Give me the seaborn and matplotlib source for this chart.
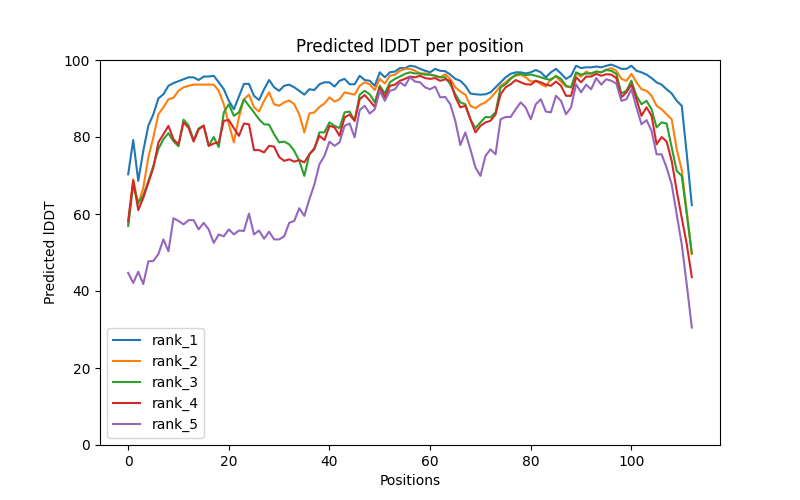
import numpy as np
import pandas as pd
import matplotlib
matplotlib.use('Agg')
import matplotlib.pyplot as plt
import seaborn as sns

# pLDDT values per rank, positions 0..112
rank_1 = [70.3, 79.2, 68.6, 76.4, 82.9, 85.9, 90.0, 91.1, 93.3, 94.0,
          94.5, 95.0, 95.5, 95.5, 94.8, 95.7, 95.7, 95.9, 94.2, 92.4,
          89.4, 87.2, 90.5, 93.8, 93.8, 90.7, 89.6, 92.4, 94.8, 92.9,
          92.0, 93.3, 93.6, 92.9, 92.0, 91.0, 92.4, 92.2, 93.7, 94.2,
          94.2, 93.1, 94.6, 95.1, 93.7, 93.7, 95.9, 94.8, 94.6, 93.3,
          96.8, 95.5, 96.8, 97.0, 97.9, 97.9, 98.5, 98.3, 97.7, 97.2,
          96.8, 97.7, 97.2, 97.1, 96.2, 95.1, 94.6, 93.3, 91.3, 91.1,
          91.0, 91.1, 91.6, 92.9, 94.2, 95.5, 96.4, 96.8, 96.8, 96.5,
          96.8, 97.4, 96.8, 95.5, 96.8, 97.7, 96.5, 95.1, 95.9, 98.5,
          97.9, 98.1, 98.1, 98.3, 98.1, 98.5, 98.8, 98.3, 97.7, 97.7,
          98.5, 97.2, 96.8, 96.2, 95.3, 94.2, 93.6, 92.4, 91.3, 89.4,
          88.1, 75.5, 62.3]
rank_2 = [57.5, 69.0, 62.5, 66.8, 74.7, 79.9, 85.9, 87.7, 89.8, 90.2,
          92.0, 92.9, 93.3, 93.6, 93.6, 93.6, 93.6, 93.6, 92.0, 88.5,
          83.3, 78.6, 85.1, 89.8, 91.0, 87.7, 86.6, 89.4, 91.6, 88.5,
          88.1, 89.0, 89.5, 88.5, 85.9, 81.2, 86.1, 86.4, 87.8, 88.7,
          90.3, 89.2, 89.8, 91.6, 91.3, 91.0, 93.3, 94.2, 93.7, 92.2,
          95.1, 93.9, 95.9, 96.2, 97.2, 97.7, 97.7, 97.2, 96.5, 96.5,
          96.2, 95.9, 95.5, 96.3, 95.1, 92.9, 91.8, 91.0, 88.1, 87.5,
          88.4, 89.0, 90.1, 91.6, 93.3, 94.2, 95.3, 95.9, 96.2, 95.5,
          94.4, 94.6, 93.7, 93.1, 95.1, 95.7, 94.4, 93.1, 92.9, 96.5,
          95.7, 97.0, 96.4, 97.0, 96.8, 97.5, 97.9, 97.2, 95.1, 94.6,
          96.4, 94.2, 92.4, 92.0, 90.7, 88.1, 87.2, 85.9, 84.6, 76.8,
          71.4, 60.7, 49.6]
rank_3 = [56.9, 67.5, 62.9, 64.8, 68.5, 72.5, 76.9, 79.4, 81.0, 78.9,
          77.6, 84.5, 83.0, 79.2, 82.2, 83.0, 77.7, 80.0, 77.4, 86.4,
          88.5, 85.5, 86.4, 89.8, 88.1, 86.4, 84.6, 83.3, 83.2, 80.7,
          78.6, 78.8, 78.1, 76.4, 73.8, 69.9, 75.5, 76.8, 81.2, 81.2,
          83.8, 82.9, 82.3, 86.4, 86.6, 84.2, 91.0, 92.0, 91.1, 89.0,
          93.3, 91.3, 94.2, 95.1, 95.7, 96.4, 96.8, 96.5, 96.5, 96.2,
          96.2, 95.9, 95.5, 95.5, 93.7, 91.1, 89.0, 88.5, 84.6, 82.3,
          83.8, 85.2, 85.1, 86.4, 92.9, 93.7, 95.1, 96.2, 96.4, 96.1,
          96.2, 95.9, 95.5, 95.1, 94.8, 95.9, 95.1, 93.3, 92.9, 96.8,
          96.2, 96.5, 96.5, 97.0, 96.8, 97.4, 97.2, 96.4, 91.3, 92.0,
          94.6, 90.7, 88.5, 89.4, 87.2, 82.5, 83.8, 83.5, 77.3, 71.2,
          69.9, 59.9, 49.8]
rank_4 = [58.2, 68.7, 61.0, 64.2, 68.1, 72.0, 78.6, 80.7, 82.9, 79.4,
          78.1, 83.8, 82.4, 78.8, 82.0, 82.9, 77.7, 78.3, 78.6, 84.2,
          84.4, 82.3, 80.3, 83.5, 83.3, 76.6, 76.6, 76.0, 77.7, 77.5,
          74.8, 73.8, 74.2, 73.6, 74.0, 73.4, 75.5, 77.1, 80.3, 79.2,
          82.9, 82.5, 80.3, 85.1, 85.8, 84.2, 89.8, 90.9, 89.4, 87.8,
          92.9, 90.3, 93.3, 93.6, 94.6, 95.1, 95.7, 95.5, 95.9, 95.3,
          95.1, 95.3, 94.6, 95.0, 94.6, 90.4, 87.7, 88.1, 84.6, 81.2,
          82.9, 83.8, 84.2, 85.9, 91.1, 92.9, 93.7, 94.8, 94.2, 93.7,
          93.6, 94.6, 94.2, 93.6, 93.3, 94.4, 93.3, 90.7, 90.7, 95.5,
          94.2, 95.7, 95.7, 96.4, 95.9, 96.3, 96.2, 95.3, 90.3, 91.6,
          93.6, 89.8, 85.5, 87.7, 85.5, 78.1, 80.0, 78.8, 73.8, 66.0,
          59.0, 52.1, 43.6]
rank_5 = [44.7, 42.1, 45.0, 41.8, 47.7, 47.8, 49.6, 53.4, 50.3, 58.9,
          58.2, 57.3, 58.4, 58.4, 56.0, 57.7, 56.0, 52.5, 54.7, 54.2,
          56.0, 54.7, 55.7, 55.6, 60.1, 54.7, 55.7, 53.6, 55.4, 53.4,
          53.4, 54.2, 57.7, 58.2, 61.5, 59.5, 63.8, 67.7, 72.9, 75.1,
          78.8, 77.7, 78.6, 82.9, 83.5, 79.9, 87.0, 88.1, 86.1, 87.2,
          92.0, 89.4, 92.0, 92.4, 94.2, 93.3, 95.5, 94.4, 94.2, 92.9,
          92.4, 93.1, 90.3, 90.4, 88.5, 84.2, 77.9, 81.2, 76.8, 72.1,
          69.9, 75.1, 76.8, 75.5, 84.6, 85.2, 85.2, 87.2, 89.0, 87.6,
          84.6, 88.5, 89.8, 86.6, 86.4, 90.7, 89.4, 85.9, 87.7, 93.7,
          91.6, 93.6, 92.4, 95.3, 93.6, 95.0, 94.6, 93.9, 89.4, 89.8,
          92.4, 87.7, 83.3, 84.4, 81.6, 75.5, 75.5, 72.0, 67.7, 59.9,
          52.1, 41.6, 30.5]

ranks = {'rank_1': rank_1, 'rank_2': rank_2, 'rank_3': rank_3,
         'rank_4': rank_4, 'rank_5': rank_5}

# long-form table
rows = []
for name, vals in ranks.items():
    for pos, v in enumerate(vals):
        rows.append((name, pos, v))
df = pd.DataFrame(rows, columns=['model', 'Positions', 'pLDDT'])

fig, ax = plt.subplots(figsize=(8, 5), dpi=100)
palette = sns.color_palette('tab10', 5)
for color, (name, sub) in zip(palette, df.groupby('model', sort=False)):
    sns.lineplot(data=sub, x='Positions', y='pLDDT', color=color,
                 label=name, ax=ax)

ax.set_title('Predicted lDDT per position')
ax.set_xlabel('Positions')
ax.set_ylabel('Predicted lDDT')
ax.set_ylim(0, 100)
ax.legend(loc='lower left')

plt.savefig('out.png', dpi=100)
